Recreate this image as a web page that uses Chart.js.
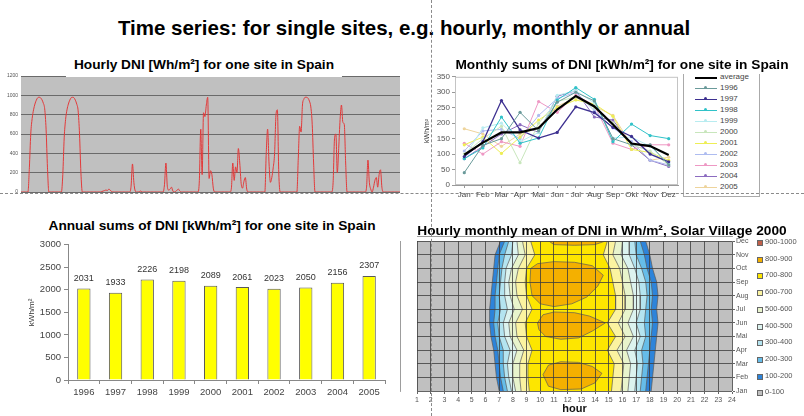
<!DOCTYPE html>
<html>
<head>
<meta charset="utf-8">
<script src="https://cdn.jsdelivr.net/npm/chart.js@4.4.1/dist/chart.umd.min.js"></script>
<style>
body { margin: 0; background: #fff; font-family: "Liberation Sans", Arial, sans-serif; }
#page { position: relative; width: 804px; height: 416px; overflow: hidden; background: #fff; }
.pane { position: absolute; }
.ttl { position: absolute; font-weight: bold; color: #000; white-space: nowrap; transform: translate(-50%, -50%); z-index: 3; }
.vdash { position: absolute; border-left: 1px dashed #8a8a8a; width: 0; z-index: 5; }
.hdash { position: absolute; border-top: 1px dashed #8a8a8a; height: 0; z-index: 5; }
#legend2 { position: absolute; left: 683px; top: 74px; width: 75px; height: 122px; border: 1px solid #aaa; border-top: none; z-index: 2; }
.lrow { position: absolute; left: 0; width: 75px; height: 10px; font-size: 8px; color: #444; }
.lline { position: absolute; left: 11px; width: 22px; top: 5px; height: 0; }
.ldot { position: absolute; left: 20px; top: 3px; width: 3px; height: 3px; border-radius: 2px; }
.ltxt { position: absolute; left: 36px; top: 0; line-height: 10px; }
.crow { position: absolute; left: 757px; height: 8px; font-size: 7.5px; color: #555; white-space: nowrap; z-index: 2; }
.csq { position: absolute; left: 0; top: 1px; width: 4px; height: 4px; border: 1px solid #666; }
.ctxt { position: absolute; left: 8px; top: -1px; line-height: 8px; }
</style>
</head>
<body>
<div id="page">
  <div class="ttl" style="left:404px;top:28px;font-size:20.5px">Time series: for single sites, e.g. hourly, monthly or annual</div>

  <div class="ttl" style="left:204px;top:66px;font-size:13.7px;background:#fff;padding:2px 8px 5px">Hourly DNI [Wh/m²] for one site in Spain</div>
  <div class="pane" style="left:0;top:70px;width:404px;height:128px"><canvas id="hourlyChart"></canvas></div>

  <div class="ttl" style="left:622px;top:64px;font-size:13.7px">Monthly sums of DNI [kWh/m²] for one site in Spain</div>
  <div class="pane" style="left:418px;top:70px;width:264px;height:134px"><canvas id="monthlyChart"></canvas></div>
  <div id="legend2"></div>

  <div class="ttl" style="left:212px;top:225px;font-size:13.7px">Annual sums of DNI [kWh/m²] for one site in Spain</div>
  <div class="pane" style="left:0;top:236px;width:400px;height:170px"><canvas id="annualChart"></canvas></div>

  <div class="ttl" style="left:602px;top:230px;font-size:13.7px">Hourly monthly mean of DNI in Wh/m², Solar Village 2000</div>
  <div class="pane" style="left:400px;top:236px;width:404px;height:180px"><canvas id="contourChart"></canvas></div>
  <div id="legend4"></div>

  <div class="vdash" style="left:431px;top:0;height:416px"></div>
  <div class="hdash" style="left:0;top:193px;width:804px"></div>
</div>

<script>
// ---- hourly DNI, Wh/m², one array per day (hour 0..23)
const dniDay01 = [0,0,0,0,0,0,250,600,760,850,910,950,975,980,975,955,920,860,650,250,0,0,0,0];
const dniDay02 = [0,0,0,0,0,0,180,560,750,850,910,950,975,980,975,950,910,840,600,200,0,0,0,0];
const dniDay03 = [0,0,0,0,0,0,0,0,0,0,5,10,15,20,15,30,20,5,0,0,0,0,0,0];
const dniDay04 = [0,0,0,0,0,0,0,60,290,100,10,0,0,5,10,0,0,0,0,0,0,0,0,0];
const dniDay05 = [0,0,0,0,0,0,0,80,300,60,20,30,50,10,0,5,20,30,10,0,0,0,0,0];
const dniDay06 = [0,0,0,0,0,0,0,0,120,650,180,820,780,900,980,140,220,180,40,0,0,0,0,0];
const dniDay07 = [0,0,0,0,0,0,0,40,300,120,260,200,450,300,90,40,110,150,30,0,0,0,0,0];
const dniDay08 = [0,0,0,0,0,0,0,0,400,650,300,100,150,250,400,800,850,200,0,0,0,0,0,0];
const dniDay09 = [0,0,0,0,0,0,0,350,680,620,900,960,980,980,970,940,880,700,300,0,0,0,0,0];
const dniDay10 = [0,0,0,0,0,0,0,0,100,550,600,200,450,750,900,720,700,300,0,0,0,0,0,0];
const dniDay11 = [0,0,0,0,0,0,0,0,50,330,100,30,0,50,120,150,50,180,230,50,0,0,0,0];
const dniDay12 = [0,0,0,0,0,0,0,0,0];
const hourlyTicks = [0, 200, 400, 600, 800, 1000, 1200];

// ---- monthly sums, kWh/m²
const months = ['Jan','Feb','Mar','Apr','Mai','Jun','Jul','Aug','Sep','Okt','Nov','Dez'];
const avgMonthly = [98, 137, 170, 170, 184, 244, 288, 254, 196, 134, 126, 97];
const m1996 = [40, 128, 150, 235, 175, 268, 300, 272, 150, 130, 130, 65];
const m1997 = [92, 140, 273, 178, 152, 170, 253, 234, 186, 157, 100, 75];
const m1998 = [85, 120, 220, 135, 152, 275, 315, 277, 140, 197, 160, 150];
const m1999 = [90, 185, 200, 140, 170, 290, 305, 265, 152, 155, 125, 70];
const m2000 = [100, 150, 190, 72, 200, 270, 285, 250, 200, 130, 110, 65];
const m2001 = [130, 155, 102, 155, 210, 250, 275, 262, 222, 115, 105, 80];
const m2002 = [110, 175, 180, 150, 225, 280, 300, 240, 185, 140, 80, 65];
const m2003 = [135, 100, 140, 125, 270, 235, 290, 258, 135, 115, 130, 130];
const m2004 = [85, 125, 165, 195, 170, 287, 305, 220, 210, 130, 80, 60];
const m2005 = [182, 165, 125, 165, 185, 255, 282, 255, 225, 130, 80, 90];
const seriesNames = ['average','1996','1997','1998','1999','2000','2001','2002','2003','2004','2005'];
const seriesColors = ['#000000','#6a9a9a','#3d3090','#30c2c8','#b8ecf0','#c8e6bc','#eeee55','#aebcf0','#ee98c4','#8c6cc0','#eed49c'];

// ---- annual sums, kWh/m²
const years = ['1996','1997','1998','1999','2000','2001','2002','2003','2004','2005'];
const annualSums = [2031, 1933, 2226, 2198, 2089, 2061, 2023, 2050, 2156, 2307];

// ---- hourly monthly mean, Solar Village 2000: hour where DNI crosses each level, per month (Jan..Dec)
const contourMonths = ['Jan','Feb','Mar','Apr','Mai','Jun','Jul','Aug','Sep','Oct','Nov','Dec'];
const levels = [100, 200, 300, 400, 500, 600, 700];
const left100 = [7.0, 6.8, 6.7, 6.6, 6.4, 6.3, 6.3, 6.4, 6.5, 6.6, 6.7, 7.1];
const left200 = [7.3, 7.1, 7.0, 6.9, 6.7, 6.6, 6.7, 6.7, 6.8, 6.9, 7.0, 7.4];
const left300 = [7.6, 7.4, 7.3, 7.3, 7.0, 6.9, 7.1, 7.0, 7.1, 7.2, 7.4, 7.7];
const left400 = [7.9, 7.7, 7.6, 7.8, 7.4, 7.3, 7.6, 7.4, 7.4, 7.5, 7.9, 8.0];
const left500 = [8.2, 8.0, 8.0, 8.3, 7.8, 7.7, 8.1, 7.8, 7.7, 7.9, 8.4, 8.3];
const left600 = [8.6, 8.5, 8.5, 8.8, 8.3, 8.2, 8.7, 8.3, 8.2, 8.4, 8.9, 8.7];
const left700 = [9.2, 9.1, 9.1, 9.4, 9.0, 8.9, 9.4, 9.0, 8.9, 9.0, 9.6, 9.3];
const right100 = [18.1, 18.2, 18.3, 18.4, 18.5, 18.6, 18.5, 18.6, 18.5, 18.2, 18.0, 17.7];
const right200 = [17.7, 17.8, 17.9, 18.0, 18.1, 18.2, 18.1, 18.2, 18.1, 17.8, 17.6, 17.3];
const right300 = [17.3, 17.4, 17.5, 17.4, 17.7, 17.6, 17.7, 17.8, 17.7, 17.4, 17.0, 16.9];
const right400 = [16.9, 17.0, 17.1, 16.9, 17.3, 17.0, 17.3, 17.3, 17.2, 16.9, 16.5, 16.5];
const right500 = [16.4, 16.5, 16.6, 16.3, 16.8, 16.4, 16.8, 16.8, 16.6, 16.4, 15.9, 16.0];
const right600 = [15.9, 16.0, 16.1, 15.6, 16.2, 15.7, 16.2, 16.2, 16.0, 15.8, 15.3, 15.5];
const right700 = [15.2, 15.3, 15.4, 14.9, 15.5, 14.9, 15.5, 15.5, 15.3, 15.1, 14.6, 14.9];
// 800 Wh/m² islands as [hour, month index]
const island800Dec = [[10.5,11.1],[11.0,10.75],[12.5,10.7],[14.0,10.75],[15.0,11.1]];
const island800Sep = [[9.3,9.0],[9.8,9.35],[11.0,9.5],[12.5,9.45],[13.8,9.2],[14.6,8.5],[14.2,7.7],[13.4,6.9],[12.3,6.4],[11.0,6.2],[10.0,6.4],[9.4,7.0],[9.25,8.0]];
const island800Jun = [[9.8,5.0],[10.2,5.6],[11.0,5.8],[12.5,5.75],[13.6,5.5],[14.75,5.0],[13.8,4.4],[12.8,3.9],[11.5,3.8],[10.4,4.0],[9.9,4.5]];
const island800Feb = [[10.2,1.2],[10.6,1.9],[11.5,2.15],[12.8,2.1],[13.8,1.8],[14.5,1.3],[14.0,0.6],[13.0,0.15],[11.5,0.1],[10.6,0.35]];
const bandLabels = ['900-1000','800-900','700-800','600-700','500-600','400-500','300-400','200-300','100-200','0-100'];
const bandColors = ['#c0604a','#f4b000','#fde600','#fbf3a0','#e8f4cc','#dcf3ef','#b4e4f0','#66bde9','#2d84da','#c0c0c0'];

Chart.defaults.font.family = '"Liberation Sans", Arial, sans-serif';
Chart.defaults.color = '#444';
Chart.defaults.animation = false;
Chart.defaults.plugins.legend.display = false;
Chart.defaults.plugins.tooltip.enabled = false;

const plotBg = {
  id: 'plotBg',
  beforeDraw(chart, args, opts) {
    if (!opts.color) return;
    const a = chart.chartArea, ctx = chart.ctx;
    ctx.save();
    ctx.fillStyle = opts.color;
    ctx.fillRect(a.left, a.top, a.right - a.left, a.bottom - a.top);
    ctx.restore();
  }
};
const plotFrame = {
  id: 'plotFrame',
  afterDraw(chart, args, opts) {
    if (!opts.color) return;
    const a = chart.chartArea, ctx = chart.ctx;
    ctx.save();
    ctx.strokeStyle = opts.color;
    ctx.lineWidth = 1;
    ctx.strokeRect(a.left + 0.5, a.top + 0.5, a.right - a.left - 1, a.bottom - a.top - 1);
    ctx.restore();
  }
};
Chart.register(plotBg, plotFrame);

// ---------- hourly line
const hourly = [].concat(dniDay01, dniDay02, dniDay03, dniDay04, dniDay05, dniDay06,
  dniDay07, dniDay08, dniDay09, dniDay10, dniDay11, dniDay12);
const hourIndex = hourly.map((v, i) => i);

new Chart(document.getElementById('hourlyChart'), {
  type: 'line',
  data: {
    labels: hourIndex,
    datasets: [{
      data: hourly,
      borderColor: '#e23a3a',
      borderWidth: 1,
      pointRadius: 0,
      cubicInterpolationMode: 'monotone'
    }]
  },
  options: {
    responsive: true,
    maintainAspectRatio: false,
    layout: { padding: { top: 5, right: 4, bottom: 5, left: 0 } },
    plugins: { plotBg: { color: '#c0c0c0' } },
    scales: {
      x: { display: false },
      y: {
        min: 0, max: 1200,
        afterBuildTicks: s => { s.ticks = hourlyTicks.map(v => ({ value: v })); },
        afterFit: s => { s.width = 21; },
        grid: { color: '#6a6a6a', lineWidth: 1, drawTicks: false },
        border: { display: false },
        ticks: { font: { size: 5 }, color: '#555', padding: 3, callback: v => String(v) }
      }
    }
  }
});

// ---------- monthly lines
const monthlySeries = [avgMonthly, m1996, m1997, m1998, m1999, m2000, m2001, m2002, m2003, m2004, m2005];
new Chart(document.getElementById('monthlyChart'), {
  type: 'line',
  data: {
    labels: months,
    datasets: monthlySeries.map((vals, i) => ({
      label: seriesNames[i],
      data: vals,
      borderColor: seriesColors[i],
      backgroundColor: seriesColors[i],
      borderWidth: i === 0 ? 2.2 : (i === 2 ? 1.3 : 1),
      pointRadius: i === 0 ? 0 : 1.6,
      pointBorderWidth: 0,
      tension: 0,
      order: i === 0 ? 0 : i + 1
    }))
  },
  options: {
    responsive: true,
    maintainAspectRatio: false,
    layout: { padding: { top: 5, right: 4, bottom: 0, left: 5 } },
    plugins: { plotFrame: { color: '#c4c4c4' } },
    scales: {
      x: {
        offset: true,
        afterFit: s => { s.height = 19; },
        grid: { display: true, drawOnChartArea: false, tickLength: 3, color: '#999' },
        border: { color: '#999' },
        ticks: { font: { size: 8 }, color: '#444', padding: 2, autoSkip: false, maxRotation: 0 }
      },
      y: {
        min: 0, max: 350,
        afterFit: s => { s.width = 32; },
        title: { display: true, text: 'kWh/m²', font: { size: 7 }, color: '#333', padding: 0 },
        grid: { display: true, drawOnChartArea: false, tickLength: 3, color: '#999' },
        border: { color: '#999' },
        ticks: { stepSize: 50, font: { size: 8 }, color: '#555', padding: 2 }
      }
    }
  }
});

const legend2 = document.getElementById('legend2');
seriesNames.forEach((name, i) => {
  const row = document.createElement('div');
  row.className = 'lrow';
  row.style.top = (-2 + 11 * i) + 'px';
  const lw = i === 0 ? 2 : 1;
  row.innerHTML = '<span class="lline" style="border-top:' + lw + 'px solid ' + seriesColors[i] + '"></span>' +
    (i === 0 ? '' : '<span class="ldot" style="background:' + seriesColors[i] + '"></span>') +
    '<span class="ltxt">' + name + '</span>';
  legend2.appendChild(row);
});

// ---------- annual bars
const barLabels = {
  id: 'barLabels',
  afterDatasetsDraw(chart) {
    const ctx = chart.ctx;
    const meta = chart.getDatasetMeta(0);
    ctx.save();
    ctx.font = '9px "Liberation Sans", Arial, sans-serif';
    ctx.fillStyle = '#333';
    ctx.textAlign = 'center';
    ctx.textBaseline = 'middle';
    meta.data.forEach((bar, i) => {
      ctx.fillText(String(chart.data.datasets[0].data[i]), bar.x, bar.y - 10);
    });
    ctx.restore();
  }
};
new Chart(document.getElementById('annualChart'), {
  type: 'bar',
  data: {
    labels: years,
    datasets: [{
      data: annualSums,
      backgroundColor: '#ffff00',
      borderColor: '#5a5a5a',
      borderWidth: 1,
      barPercentage: 0.42,
      categoryPercentage: 1
    }]
  },
  plugins: [barLabels],
  options: {
    responsive: true,
    maintainAspectRatio: false,
    layout: { padding: { top: 6, right: 15, bottom: 0, left: 27 } },
    scales: {
      x: {
        afterFit: s => { s.height = 26; },
        grid: { display: true, drawOnChartArea: false, tickLength: 4, color: '#888' },
        border: { color: '#888' },
        ticks: { font: { size: 9.5 }, color: '#444', padding: 3 }
      },
      y: {
        min: 0, max: 3000,
        afterFit: s => { s.width = 41; },
        title: { display: true, text: 'kWh/m²', font: { size: 8 }, color: '#333', padding: 0 },
        grid: { display: true, drawOnChartArea: false, tickLength: 4, color: '#888' },
        border: { color: '#888' },
        ticks: { stepSize: 500, font: { size: 9.5 }, color: '#444', padding: 3, callback: v => String(v) }
      }
    }
  }
});

// ---------- contour bands
const leftEdges = [left100, left200, left300, left400, left500, left600, left700];
const rightEdges = [right100, right200, right300, right400, right500, right600, right700];
const islands800 = [island800Dec, island800Sep, island800Jun, island800Feb];
const levelColor = lv => bandColors[bandLabels.indexOf(lv + '-' + (lv + 100))];

const contourSets = levels.map((lv, k) => ({
  data: leftEdges[k].map((h, m) => ({ x: h, y: m }))
    .concat(rightEdges[k].map((h, m) => ({ x: h, y: m })).reverse()),
  backgroundColor: levelColor(lv),
  order: 1000 - lv
})).concat(islands800.map(poly => ({
  data: poly.concat([poly[0]]).map(p => ({ x: p[0], y: p[1] })),
  backgroundColor: levelColor(800),
  order: 100
}))).map(ds => Object.assign(ds, {
  showLine: true,
  fill: 'shape',
  borderColor: '#5a5a5a',
  borderWidth: 0.7,
  pointRadius: 0,
  tension: 0
}));

new Chart(document.getElementById('contourChart'), {
  type: 'scatter',
  data: { datasets: contourSets },
  options: {
    responsive: true,
    maintainAspectRatio: false,
    layout: { padding: { top: 4, right: 0, bottom: 0, left: 17 } },
    plugins: { plotBg: { color: '#c0c0c0' } },
    scales: {
      x: {
        type: 'linear', min: 1, max: 24,
        afterFit: s => { s.height = 25; },
        title: { display: true, text: 'hour', font: { size: 11, weight: 'bold' }, color: '#111', padding: 0 },
        grid: { z: 1, color: '#3c3c3c', lineWidth: 0.8, tickLength: 3 },
        border: { color: '#3c3c3c' },
        ticks: { stepSize: 1, autoSkip: false, maxRotation: 0, font: { size: 7 }, color: '#555', padding: 2 }
      },
      y: {
        type: 'linear', position: 'right', min: 0, max: 11,
        afterFit: s => { s.width = 72; },
        grid: { z: 1, color: '#3c3c3c', lineWidth: 0.8, tickLength: 3 },
        border: { color: '#3c3c3c' },
        ticks: { stepSize: 1, autoSkip: false, font: { size: 7 }, color: '#555', padding: 1, callback: v => contourMonths[v] }
      }
    }
  }
});

const legend4 = document.getElementById('legend4');
bandLabels.forEach((lab, i) => {
  const row = document.createElement('div');
  row.className = 'crow';
  row.style.top = (239 + 16.7 * i) + 'px';
  row.innerHTML = '<span class="csq" style="background:' + bandColors[i] + '"></span><span class="ctxt">' + lab + '</span>';
  legend4.appendChild(row);
});
</script>
</body>
</html>
